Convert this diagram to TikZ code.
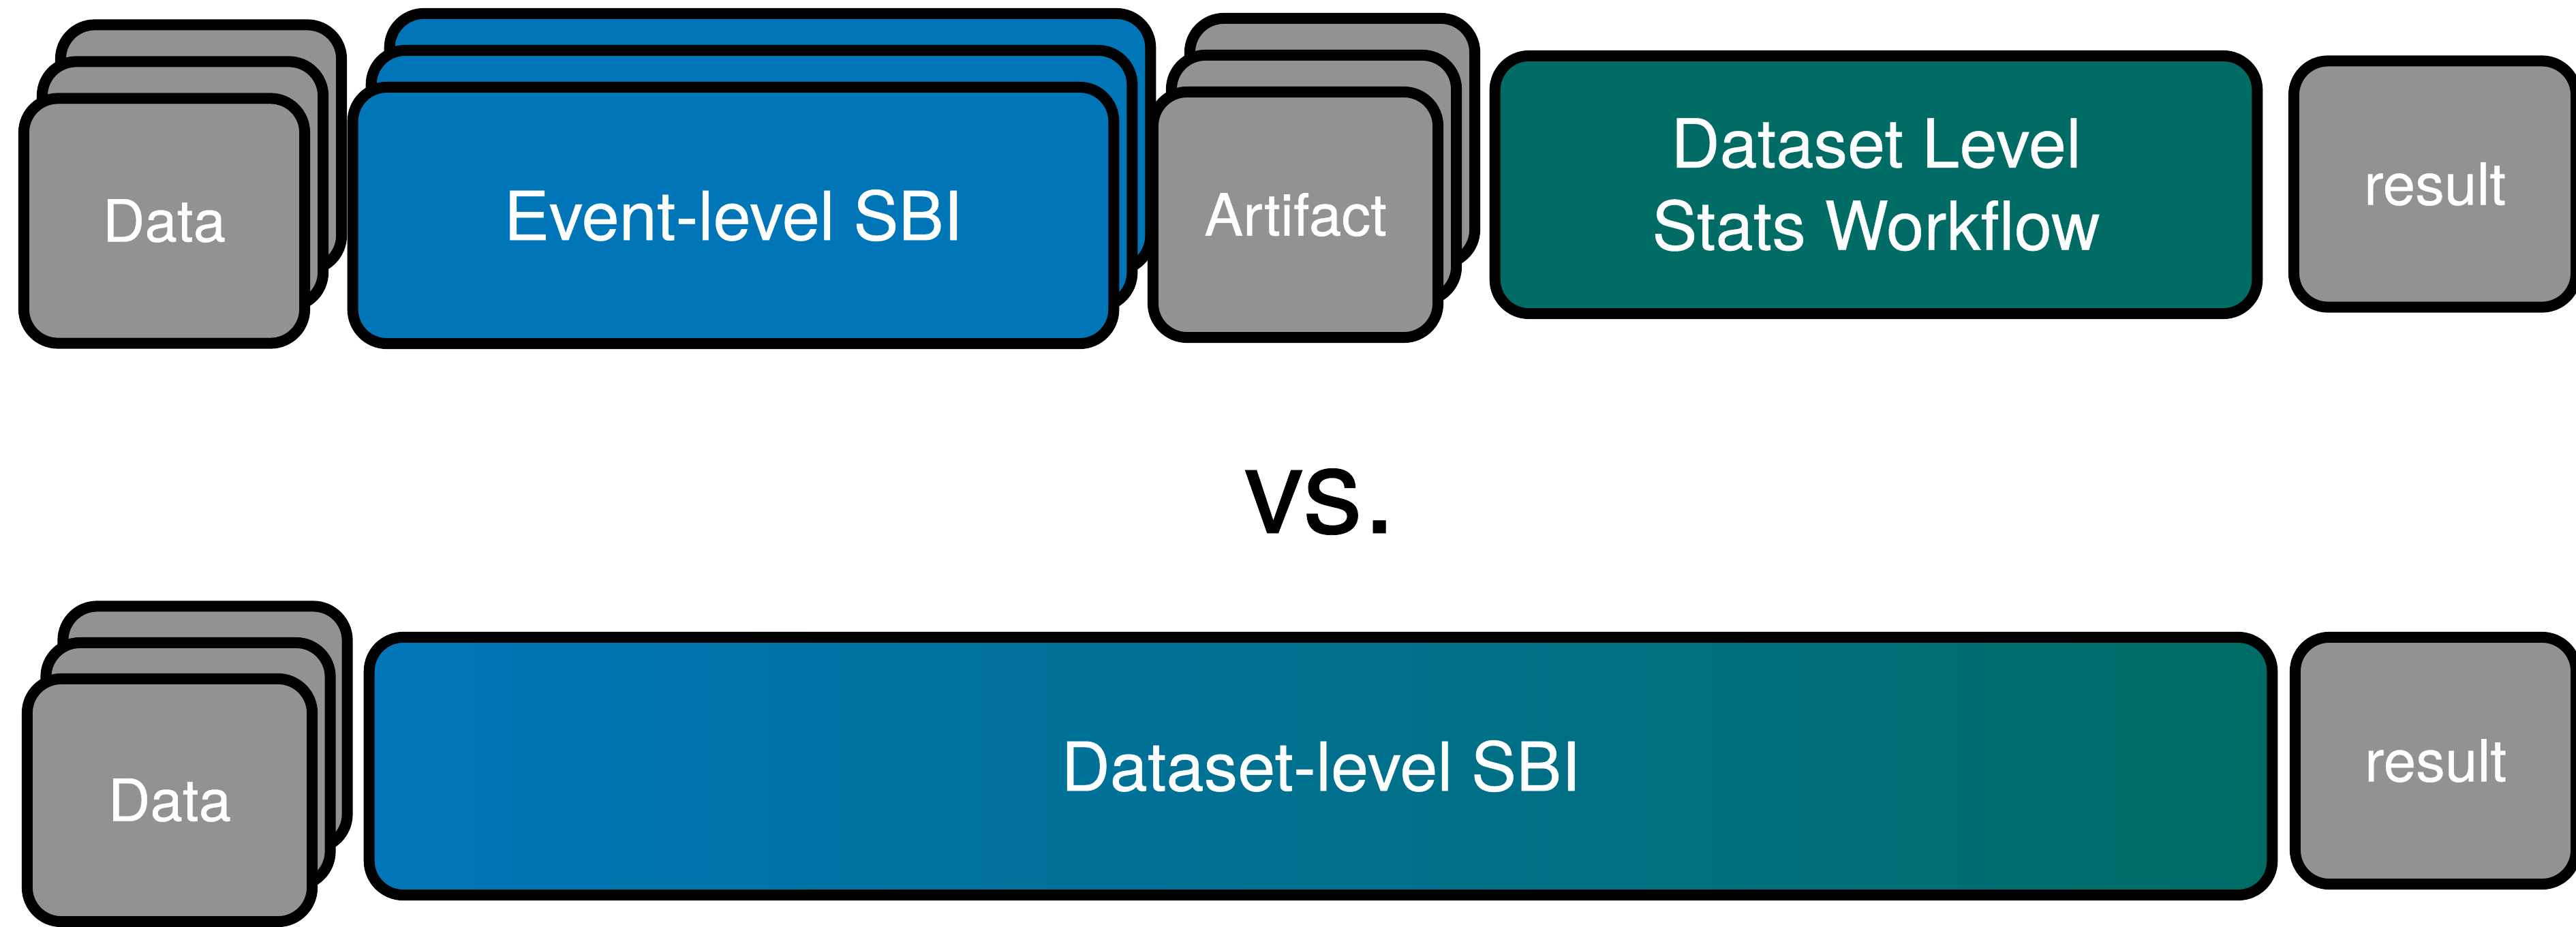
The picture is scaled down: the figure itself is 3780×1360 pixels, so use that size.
\documentclass[tikz,border=0pt]{standalone}
\usepackage{fontspec}
\setmainfont[FakeBold=0.45]{TeX Gyre Heros}
\definecolor{sbiblue}{RGB}{0,117,184}
\definecolor{sbiteal}{RGB}{0,108,101}
\definecolor{boxgray}{RGB}{146,146,146}
\tikzset{
  box/.style={draw=black, line width=0.16cm, rounded corners=0.5cm, inner sep=0pt, outer sep=0pt, text=white, align=center},
  graybox/.style={box, fill=boxgray, font=\fontsize{24.3}{29}\selectfont},
  bluebox/.style={box, fill=sbiblue, font=\fontsize{28.2}{34.4}\selectfont},
  tealbox/.style={box, fill=sbiteal, font=\fontsize{28.2}{34.4}\selectfont},
  gradbox/.style={box, left color=sbiblue, right color=sbiteal, font=\fontsize{28.2}{34.4}\selectfont},
}
\begin{document}
\begin{tikzpicture}[x=0.01cm, y=-0.01cm]
\useasboundingbox (0,0) rectangle (3780,1360);
% top row: data stack
\node[graybox, minimum width=4.12cm, minimum height=3.59cm] (data3) at (295,216) {};
\node[graybox, minimum width=4.12cm, minimum height=3.59cm] (data2) at (268,270) {};
\node[graybox, minimum width=4.12cm, minimum height=3.59cm] (data1) at (241,324) {Data};
% event-level stack
\node[bluebox, minimum width=11.16cm, minimum height=3.76cm] (ev3) at (1130,208) {};
\node[bluebox, minimum width=11.16cm, minimum height=3.76cm] (ev2) at (1103,262) {};
\node[bluebox, minimum width=11.16cm, minimum height=3.76cm] (ev1) at (1076,316) {Event-level SBI};
% artifact stack
\node[graybox, minimum width=4.18cm, minimum height=3.60cm] (art3) at (1955,207) {};
\node[graybox, minimum width=4.18cm, minimum height=3.60cm] (art2) at (1928,261) {};
\node[graybox, minimum width=4.18cm, minimum height=3.60cm] (art1) at (1901,315) {Artifact};
% dataset level stats workflow
\node[tealbox, minimum width=11.18cm, minimum height=3.78cm] (stats) at (2753,271) {Dataset Level\\Stats Workflow};
% result top
\node[graybox, minimum width=4.14cm, minimum height=3.61cm] (res1) at (3573,270) {result};
% vs.
\node[font=\fontsize{50}{60}\selectfont, inner sep=0pt] (vs) at (1937,736) {vs.};
% bottom row: data stack
\node[graybox, minimum width=4.17cm, minimum height=3.55cm] (bdata3) at (301,1067) {};
\node[graybox, minimum width=4.17cm, minimum height=3.56cm] (bdata2) at (276,1121) {};
\node[graybox, minimum width=4.18cm, minimum height=3.56cm] (bdata1) at (249,1174) {Data};
% dataset-level SBI
\node[gradbox, minimum width=27.91cm, minimum height=3.78cm] (dsbi) at (1938,1124) {Dataset-level SBI};
% result bottom
\node[graybox, minimum width=4.12cm, minimum height=3.62cm] (res2) at (3574,1116) {result};
\end{tikzpicture}
\end{document}
